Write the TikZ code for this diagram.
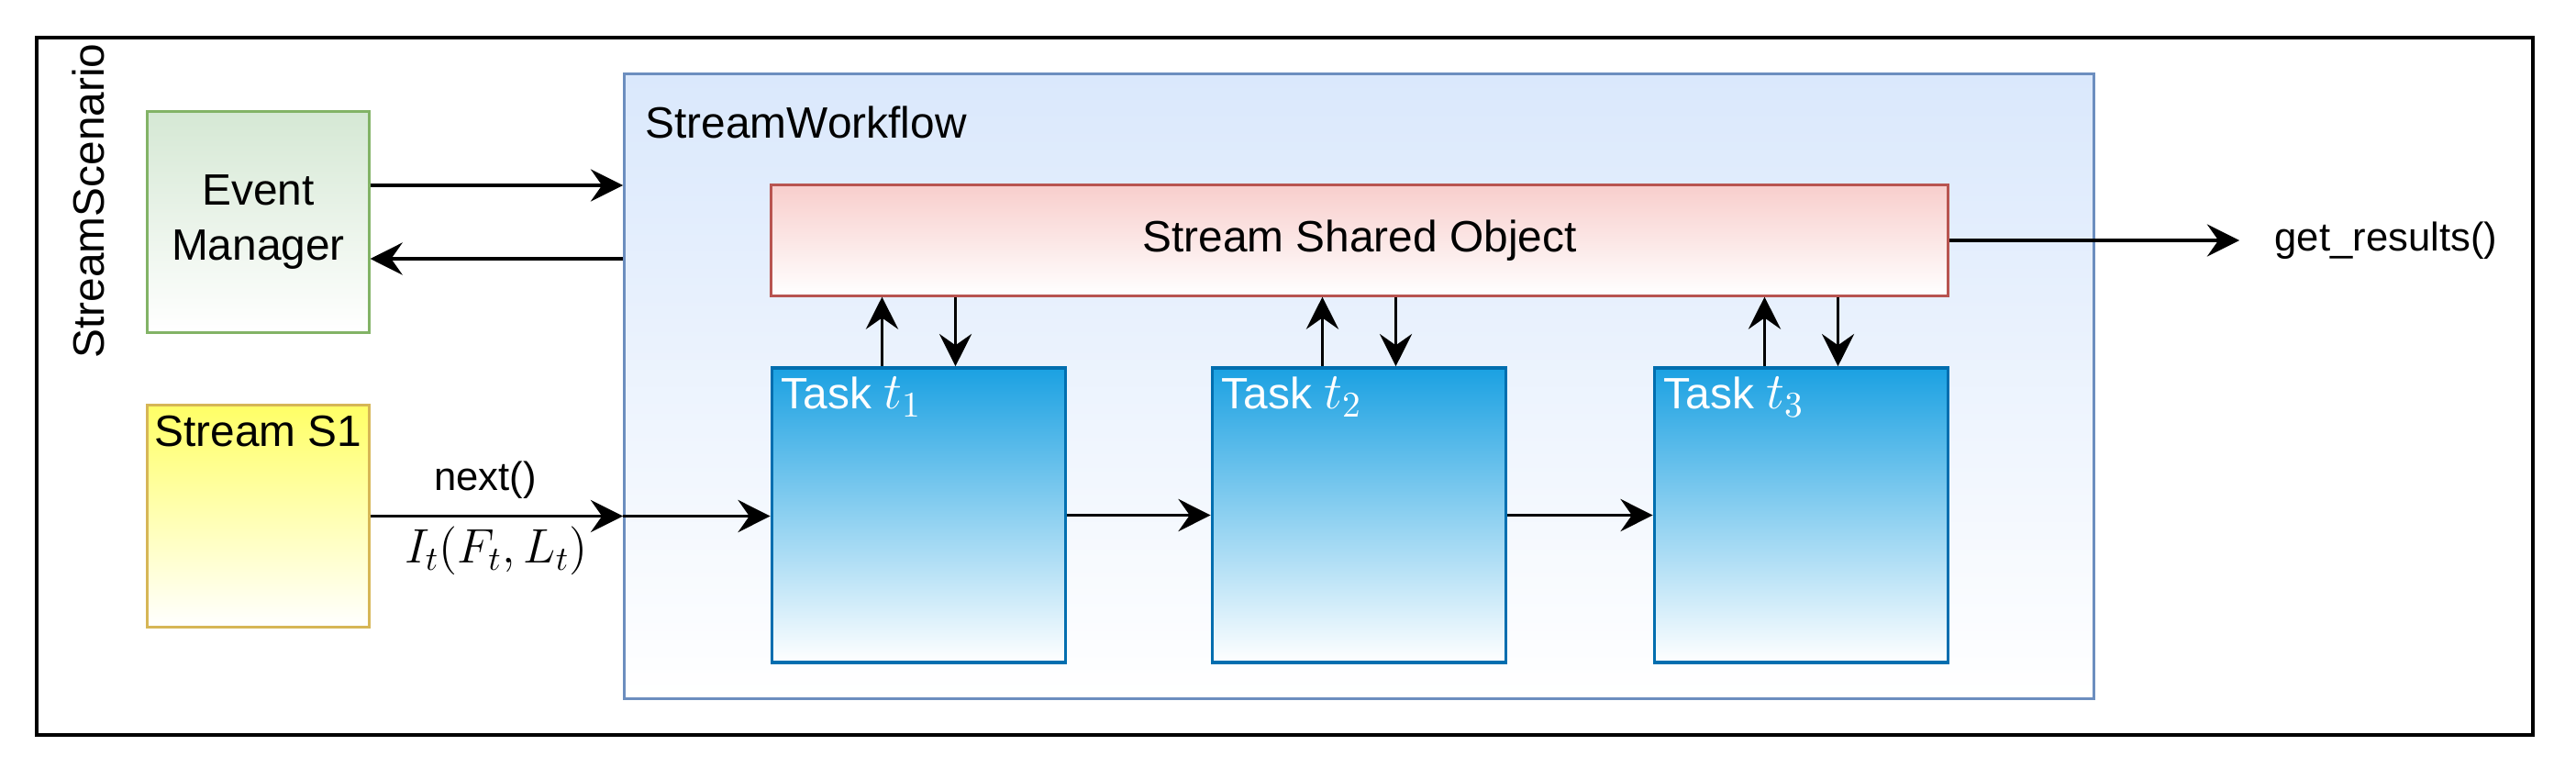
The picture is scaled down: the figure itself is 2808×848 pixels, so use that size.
\RequirePackage{fix-cm}
\documentclass[tikz,border=0pt]{standalone}
\usepackage{fontspec}
\setmainfont{Liberation Sans}
\usetikzlibrary{arrows.meta}

\definecolor{emfill}{HTML}{D5E8D4}
\definecolor{emline}{HTML}{82B366}
\definecolor{srcfill}{HTML}{FFFF66}
\definecolor{srcline}{HTML}{D6B656}
\definecolor{wffill}{HTML}{DAE8FC}
\definecolor{wfline}{HTML}{6C8EBF}
\definecolor{sofill}{HTML}{F8CECC}
\definecolor{soline}{HTML}{B85450}
\definecolor{taskfill}{HTML}{1BA1E2}
\definecolor{taskline}{HTML}{006EAF}

\newcommand{\bigfont}{\fontsize{13.6}{17}\selectfont}
\newcommand{\smallfont}{\fontsize{12.4}{15}\selectfont}
\newcommand{\taskmath}[1]{{\fontsize{16}{19}\selectfont$#1$}}

\tikzset{
  box/.style={draw, line width=0.85pt, inner sep=0pt, bottom color=white, font=\bigfont},
  emnode/.style={box, draw=emline, top color=emfill, minimum width=2.41cm, minimum height=2.4cm, align=center},
  srcnode/.style={box, draw=srcline, top color=srcfill, minimum width=2.41cm, minimum height=2.41cm},
  wfnode/.style={box, draw=wfline, top color=wffill, minimum width=16.01cm, minimum height=6.8cm},
  sonode/.style={box, draw=soline, top color=sofill, minimum width=12.82cm, minimum height=1.2cm},
  tasknode/.style={box, line width=1pt, draw=taskline, top color=taskfill, minimum width=3.2cm, minimum height=3.21cm},
  tasklabel/.style={anchor=north west, inner sep=3.2pt, text=white, font=\bigfont},
  arr/.style={-{Stealth[length=10pt,width=10pt,inset=3.5pt]}, line width=1pt},
}

\begin{document}
\begin{tikzpicture}[x=0.01cm, y=-0.01cm]
  \useasboundingbox (0,0) rectangle (2808,848);
  % outer scenario frame
  \node[draw, line width=1.2pt, minimum width=27.19cm, minimum height=7.6cm, inner sep=0pt] (scenario) at (1400.5,421) {};
  \node[font=\bigfont, rotate=90] (scnlabel) at (96,219) {StreamScenario};

  \node[emnode] (em) at (281.5,242) {Event\\Manager};
  \node[srcnode, label={[font=\bigfont, anchor=north, inner sep=3.5pt]north:Stream S1}] (src) at (281.5,562.5) {};

  % workflow with shared object and tasks
  \node[wfnode] (wf) at (1481.5,421) {};
  \node[font=\bigfont, anchor=north west, inner sep=0pt] (wflabel) at ([xshift=6.8pt, yshift=-10.3pt]wf.north west) {StreamWorkflow};
  \node[sonode] (so) at (1482,262) {Stream Shared Object};
  \node[tasknode, label={[tasklabel]north west:Task \taskmath{t_1}}] (t1) at (1001.5,561.5) {};
  \node[tasknode, label={[tasklabel]north west:Task \taskmath{t_2}}] (t2) at (1481.5,561.5) {};
  \node[tasknode, label={[tasklabel]north west:Task \taskmath{t_3}}] (t3) at (1963.5,561.5) {};

  \node[font=\smallfont, anchor=west, inner sep=0pt] (res) at (2479,262) {get\_results()};
  \node[font=\smallfont] (nextlbl) at (529,523) {next()};
  \node[font=\fontsize{15}{18}\selectfont] (itlbl) at (541,600) {$I_t(F_t,L_t)$};

  % connectors
  \draw[arr] ([yshift=0.4cm]em.east) -- ([yshift=0.4cm]em.east -| wf.west);
  \draw[arr] ([yshift=-0.4cm]em.east -| wf.west) -- ([yshift=-0.4cm]em.east);
  \draw[arr] (src.east) -- (src.east -| wf.west);
  \draw[arr] (src.east -| wf.west) -- (src.east -| t1.west);
  \draw[arr] (t1.east) -- (t2.west);
  \draw[arr] (t2.east) -- (t3.west);
  \foreach \t in {t1,t2,t3} {
    \draw[arr] ([xshift=-0.4cm]\t.north) -- ([xshift=-0.4cm]\t.north |- so.south);
    \draw[arr] ([xshift=0.4cm]\t.north |- so.south) -- ([xshift=0.4cm]\t.north);
  }
  \draw[arr, shorten >=10.8pt] (so.east) -- (res.west);
\end{tikzpicture}
\end{document}
